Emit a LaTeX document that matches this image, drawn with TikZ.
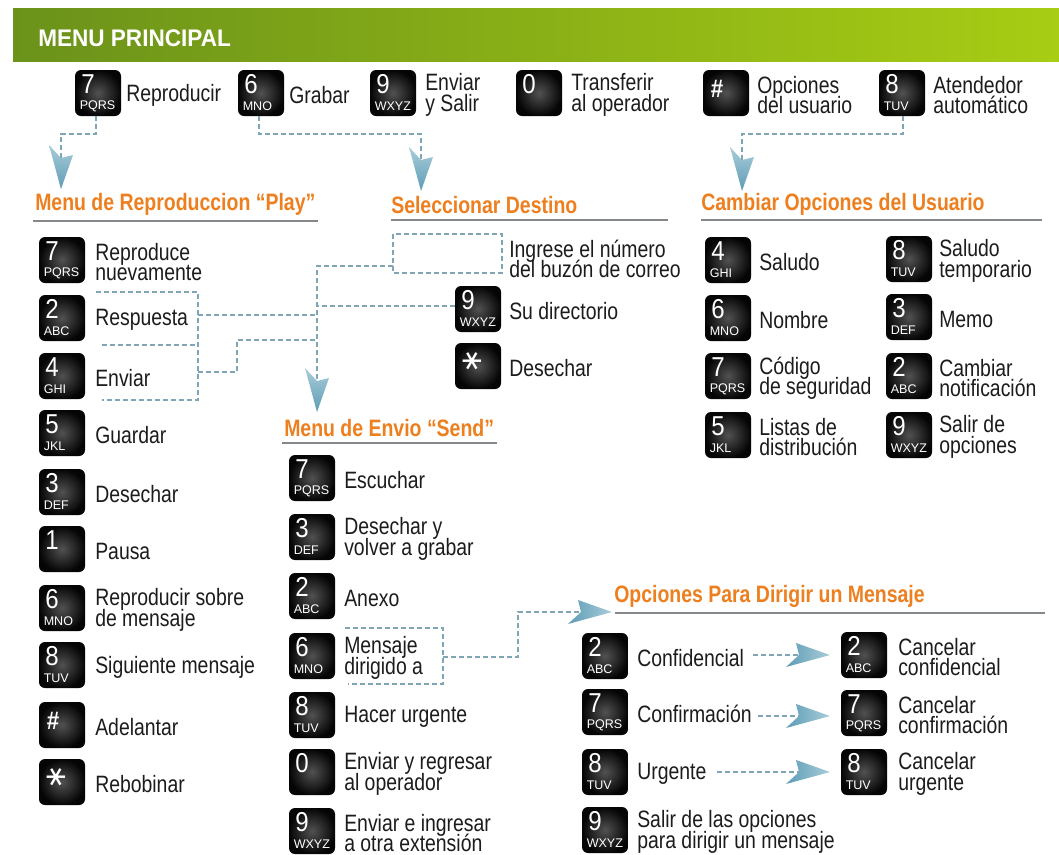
\documentclass[tikz,border=0pt]{standalone}
\usepackage{fontspec}
\setmainfont[FakeStretch=0.82]{Liberation Sans}
\newfontfamily\keyfont[FakeStretch=0.88]{Liberation Sans}
\newfontfamily\letterfont{Liberation Sans}
\newfontfamily\symfont{DejaVu Sans}
\newfontfamily\headfont[FakeStretch=0.94]{Liberation Sans}
\lineskiplimit=-30pt
\definecolor{inkc}{HTML}{1C1C1C}
\definecolor{orangec}{HTML}{EE7F1E}
\definecolor{rulec}{HTML}{85888A}
\definecolor{dashc}{HTML}{7FA6B6}
\definecolor{barl}{HTML}{6B921A}
\definecolor{barm}{HTML}{8CAC12}
\definecolor{barr}{HTML}{A8CD14}
\definecolor{headl}{HTML}{A9CDD9}
\definecolor{headd}{HTML}{5D9CB6}
\tikzset{
  keycap/.style={rectangle,rounded corners=4.5pt,minimum size=34.5pt,inner sep=0pt,
    shading=radial,inner color=black!68,outer color=black!98},
  keynum/.style={anchor=west,inner sep=0pt,text=white,font=\keyfont\fontsize{20.5}{20}\selectfont},
  keylet/.style={anchor=west,inner sep=0pt,text=white,font=\letterfont\fontsize{9.4}{10}\selectfont},
  keyhash/.style={anchor=center,inner sep=0pt,text=white,font=\keyfont\bfseries\fontsize{19}{19}\selectfont},
  keysym/.style={anchor=center,inner sep=0pt,text=white,rotate=90,font=\symfont\fontsize{22}{22}\selectfont},
  lab/.style={anchor=west,inner sep=0pt,yshift=-1.5pt,align=left,text=inkc,font=\fontsize{17.75}{15.4}\selectfont},
  sect/.style={anchor=west,inner sep=0pt,yshift=-1.2pt,text=orangec,font=\bfseries\fontsize{17.8}{18}\selectfont},
  secrule/.style={draw=rulec,line width=.95pt},
  dashline/.style={draw=dashc,line width=.85pt,dash pattern=on 3.9pt off 2.1pt},
}
\newcommand{\keyd}[7]{%
  \node[keycap] (#1) at (#2,#3) {};
  \node[keynum] (#1-n) at ([shift={(-17,-9)}]#1.center) {#4};
  \node[keylet] (#1-l) at ([shift={(-18.5,13)}]#1.center) {#5};
  \node[lab] (#1-t) at (#6,#3) {#7};
}
\newcommand{\keyhash}[5]{%
  \node[keycap] (#1) at (#2,#3) {};
  \node[keyhash] (#1-n) at ([shift={(-9,-4)}]#1.center) {\#};
  \node[lab] (#1-t) at (#4,#3) {#5};
}
\newcommand{\keystar}[5]{%
  \node[keycap] (#1) at (#2,#3) {};
  \node[keysym] (#1-n) at ([shift={(-6,-5)}]#1.center) {∗};
  \node[lab] (#1-t) at (#4,#3) {#5};
}
\newcommand{\arrowdown}[3]{%
  \coordinate (#1) at (#2,#3);
  \coordinate (#1-n) at ([shift={(0,-31)}]#1);
  \shade[top color=headl,bottom color=headd]
    (#1) -- ([shift={(-12,-44)}]#1) -- (#1-n) -- ([shift={(12,-34)}]#1) -- cycle;
}
\newcommand{\arrowright}[3]{%
  \coordinate (#1) at (#2,#3);
  \coordinate (#1-n) at ([shift={(-31,0)}]#1);
  \shade[left color=headd,right color=headl]
    (#1) -- ([shift={(-44,12)}]#1) -- (#1-n) -- ([shift={(-34,-12)}]#1) -- cycle;
}
\begin{document}
\begin{tikzpicture}[x=.75pt,y=-.75pt]
\useasboundingbox (0,0) rectangle (1059,854);
\fill[white] (0,0) rectangle (1059,854);
% header
\shade[left color=barl,middle color=barm,right color=barr] (13,8) rectangle (1059,61);
\node[anchor=west,inner sep=0pt,text=white,font=\headfont\bfseries\fontsize{18}{18}\selectfont] (title) at (38,38) {MENU PRINCIPAL};

% top row
\keyd{a7}{98}{93}{7}{PQRS}{126}{Reproducir}
\keyd{a6}{261}{93}{6}{MNO}{289}{Grabar}
\keyd{a9}{393}{93}{9}{WXYZ}{425}{Enviar\\y Salir}
\keyd{a0}{539}{93}{0}{}{571}{Transferir\\al operador}
\keyhash{ah}{726}{93}{757}{Opciones\\del usuario}
\keyd{a8}{902}{93}{8}{TUV}{933}{Atendedor\\automático}

% section titles
\node[sect] (s1) at (35,203) {Menu de Reproduccion “Play”};
\node[sect] (s2) at (391,203) {Seleccionar Destino};
\node[sect] (s3) at (701,203) {Cambiar Opciones del Usuario};
\node[sect] (s4) at (284,426) {Menu de Envio “Send”};
\node[sect] (s5) at (614,595) {Opciones Para Dirigir un Mensaje};
\coordinate (r1a) at (33,221); \coordinate (r1b) at (318,221);
\coordinate (r2a) at (391,220); \coordinate (r2b) at (668,220);
\coordinate (r3a) at (701,220); \coordinate (r3b) at (1042,220);
\coordinate (r4a) at (282,443); \coordinate (r4b) at (497,443);
\coordinate (r5a) at (615,613); \coordinate (r5b) at (1045,613);
\foreach \i in {1,...,5} \draw[secrule] (r\i a) -- (r\i b);

% left column
\keyd{b7}{62}{260}{7}{PQRS}{95}{Reproduce\\nuevamente}
\keyd{b2}{62}{318}{2}{ABC}{95}{Respuesta}
\keyd{b4}{62}{376}{4}{GHI}{95}{Enviar}
\keyd{b5}{62}{433}{5}{JKL}{95}{Guardar}
\keyd{b3}{62}{492}{3}{DEF}{95}{Desechar}
\keyd{b1}{62}{549}{1}{}{95}{Pausa}
\keyd{b6}{62}{608}{6}{MNO}{95}{Reproducir sobre\\de mensaje}
\keyd{b8}{62}{665}{8}{TUV}{95}{Siguiente mensaje}
\keyhash{bh}{62}{725}{95}{Adelantar}
\keystar{bs}{62}{782}{95}{Rebobinar}

% destination
\node[lab] (d0-t) at (509,257) {Ingrese el número\\del buzón de correo};
\keyd{d9}{478}{309}{9}{WXYZ}{509}{Su directorio}
\keystar{ds}{478}{366}{509}{Desechar}

% send column
\keyd{c7}{312}{478}{7}{PQRS}{344}{Escuchar}
\keyd{c3}{312}{537}{3}{DEF}{344}{Desechar y\\volver a grabar}
\keyd{c2}{312}{596}{2}{ABC}{344}{Anexo}
\keyd{c6}{312}{656}{6}{MNO}{344}{Mensaje\\dirigido a}
\keyd{c8}{312}{715}{8}{TUV}{344}{Hacer urgente}
\keyd{c0}{312}{772}{0}{}{344}{Enviar y regresar\\al operador}
\keyd{c9}{312}{831}{9}{WXYZ}{344}{Enviar e ingresar\\a otra extensión}

% user options
\keyd{e4}{728}{260}{4}{GHI}{759}{Saludo}
\keyd{e6}{728}{318}{6}{MNO}{759}{Nombre}
\keyd{e7}{728}{376}{7}{PQRS}{759}{Código\\de seguridad}
\keyd{e5}{728}{435}{5}{JKL}{759}{Listas de\\distribución}
\keyd{f8}{909}{259}{8}{TUV}{939}{Saludo\\temporario}
\keyd{f3}{909}{317}{3}{DEF}{939}{Memo}
\keyd{f2}{909}{376}{2}{ABC}{939}{Cambiar\\notificación}
\keyd{f9}{909}{435}{9}{WXYZ}{939}{Salir de\\opciones}

% message options
\keyd{g2}{605}{656}{2}{ABC}{637}{Confidencial}
\keyd{g7}{605}{712}{7}{PQRS}{637}{Confirmación}
\keyd{g8}{605}{772}{8}{TUV}{637}{Urgente}
\keyd{g9}{605}{830}{9}{WXYZ}{637}{Salir de las opciones\\para dirigir un mensaje}
\keyd{h2}{864}{655}{2}{ABC}{898}{Cancelar\\confidencial}
\keyd{h7}{864}{713}{7}{PQRS}{898}{Cancelar\\confirmación}
\keyd{h8}{864}{772}{8}{TUV}{898}{Cancelar\\urgente}

% arrowheads
\arrowdown{t1}{61}{189}
\arrowdown{t2}{421}{191}
\arrowdown{t3}{742}{191}
\arrowdown{t4}{317}{412}
\arrowright{t5}{612}{612}
\arrowright{t6}{830}{655}
\arrowright{t7}{830}{716}
\arrowright{t8}{830}{772}

% connectors
\coordinate (p1) at (96,134);
\coordinate (p2) at (259,134);
\coordinate (p3) at (903,134);
\draw[dashline] (a7.south -| p1) -- (p1) -| (t1-n);
\draw[dashline] (a6.south -| p2) -- (p2) -| (t2-n);
\draw[dashline] (a8.south -| p3) -- (p3) -| (t3-n);

% dashed boxes and bus
\coordinate (ba) at (393,234); \coordinate (bb) at (502,273);
\draw[dashline] (ba) rectangle (bb);
\coordinate (bus1) at (317,266);
\coordinate (bus3) at (317,306);
\draw[dashline] (ba |- bus1) -- (bus1) -- (t4-n);
\draw[dashline] (d9.west |- bus3) -- (bus3);
\coordinate (r1) at (96,292); \coordinate (r2) at (198,292);
\coordinate (r3) at (198,400); \coordinate (r4) at (102,400);
\draw[dashline] (r1) -- (r2) -- (r3) -- (r4);
\coordinate (r5) at (102,345); \coordinate (r6) at (198,345);
\draw[dashline] (r5) -- (r6);
\coordinate (r7) at (198,315); \coordinate (r8) at (317,315);
\draw[dashline] (r7) -- (r8);
\coordinate (r9) at (198,372); \coordinate (r10) at (237,372);
\coordinate (r11) at (237,340); \coordinate (r12) at (317,340);
\draw[dashline] (r9) -- (r10) -- (r11) -- (r12);

\coordinate (m1) at (345,628); \coordinate (m2) at (443,628);
\coordinate (m3) at (443,684); \coordinate (m4) at (348,684);
\draw[dashline] (m1) -- (m2) -- (m3) -- (m4);
\coordinate (m5) at (443,657); \coordinate (m6) at (518,657); \coordinate (m7) at (518,612);
\draw[dashline] (m5) -- (m6) -- (m7) -- (t5-n);

% option arrows
\coordinate (o6) at (753,655);
\coordinate (o7) at (758,716);
\coordinate (o8) at (717,772);
\draw[dashline] (o6) -- (t6-n);
\draw[dashline] (o7) -- (t7-n);
\draw[dashline] (o8) -- (t8-n);
\end{tikzpicture}
\end{document}
